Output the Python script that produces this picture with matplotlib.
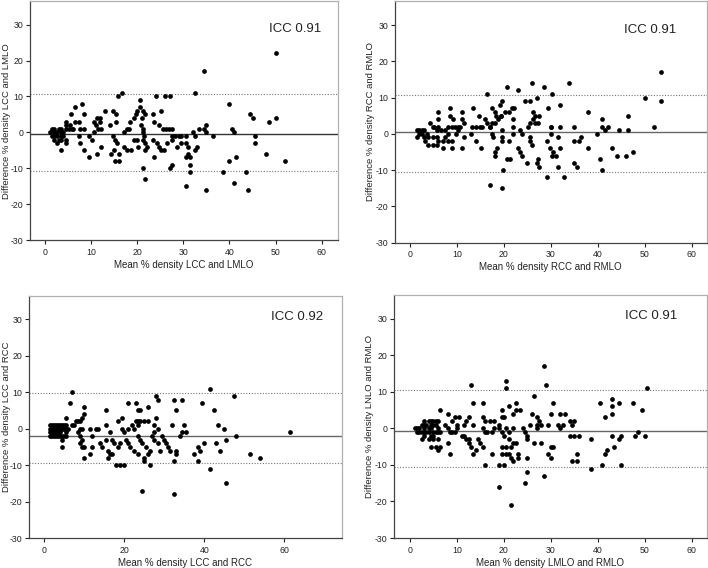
import matplotlib
matplotlib.use("Agg")
import matplotlib.pyplot as plt

plt.rcParams['font.family'] = ['Liberation Sans', 'DejaVu Sans']
plt.rcParams['axes.unicode_minus'] = False

# ---------------- data ----------------
# Panel 1: LCC vs LMLO
p1_x = [1, 1.5, 2, 2, 2.5, 3, 3.5, 3.5, 4, 4.5, 4.5, 4, 3.5, 2.5, 2, 1.5, 2, 3, 3.5, 4.5, 2.5, 4.5, 3.5,
        4.6, 5.1, 5.4, 5.8, 6.1, 6.5, 5.6, 6.5, 7.4, 8, 8.5, 7.6, 7.4, 8.5, 7.6, 8.5, 9.5, 9.6, 10.1, 10.6,
        10.6, 11, 11.2, 11.9, 11.6, 12.1, 11.9, 11.2, 12.1, 13.1, 14.1, 14.3, 14.8, 15.4, 15.5, 14.8, 15.2,
        15.7, 15, 15.2, 16.1, 16.1, 15.9, 16.6, 17.1, 17.7, 18.3, 17.1, 17.7, 18.7, 18.4, 19.2, 19.7, 20,
        20.6, 20.6, 21.2, 21.7, 20.8, 21.2, 19.2, 19.9, 20.2, 21.2, 21.7, 22.1, 21.7, 21.2, 21.7, 21, 21.3,
        21.5, 23.5, 23.7, 24.1, 25.1, 24.8, 25.5, 26.2, 26.9, 27.6, 26, 27, 23.5, 24.2, 24.8, 25.1, 25.7,
        23.6, 26.5, 27.6, 28.6, 27, 27.5, 27.5, 28.1, 29,
        50, 34.5, 32.5, 40, 44.5, 45, 48.5, 50, 40.5, 41, 35, 34.5, 33.5, 32, 35, 36.5, 32.5, 29.6, 30.5,
        29.6, 30.5, 31, 33, 32.5, 30.5, 31.5, 31, 31.5, 31.5, 30.5, 35, 38.5, 40, 41.5, 41, 43.5, 44, 45.5,
        45.5, 48, 52]
p1_y = [0, 1, 0, 1, 0, 1, 0, 1, 0, 1, 2, -1, -1, -1, -1, -1, -2, -2, -2, -2, -3, -3, -5,
        3, 1, 2, 1, 1, 3, 5, 7, 3, 8, 5, 1, -1, 1, -3, -5, -7, -1, -2, 0,
        3, 2, 4, 3, 1, 1, 4, -6, -4, 6, 2, -6, 6, 5, 3, -1, -2,
        -3, -5, -8, -8, -6, 10, 11, 0, 1, 1, -4, -5, -5, 3, 4, 5, 6,
        7, 9, 6, 5, 2, 1, -2, -2, -4, -2, -3, -4, -5, -10, -13, 4, 0,
        -1, 5, 3, 10, 6, 2, 1, 1, 1, 1, 10, 10, -2, -3, -4, -5, -5,
        -7, -3, -2, -4, -10, -9, -1, -1, -1,
        22, 17, 11, 8, 5, 4, 3, 4, 1, 0, 2, 1, 1, 0, 0, -1, -1, -1, -1,
        -3, -3, -4, -4, -5, -7, -7, -6, -9, -11, -15, -16, -11, -8, -7, -14, -11, -16, -1,
        -3, -6, -8]
p1_lines = [-0.5, 10.6, -10.7]  # mean, upper, lower limits

# Panel 2: RCC vs RMLO
p2_x = [1.4, 1.9, 2.5, 3, 1.4, 1.9, 2.5, 3.6, 3, 3.3, 3.9, 4.8, 5.7, 6, 5.7, 4.8, 3.9,
        4.3, 4.8, 5.2, 5.7, 6, 6, 6, 6.7, 7.5, 8.2, 8.9, 9.6, 10.3, 8.5, 8.5, 9.2, 11, 11, 11.4, 10.6,
        9.9, 8.2, 7.5, 7.1, 8.2, 9, 7.1, 9, 11, 11.5, 10.2, 13.3, 14, 14.9, 15.4, 13.5, 14.6, 14.1, 13,
        15.1, 16.5, 16, 16.3, 17, 17.5, 18.1, 18.8, 19.4, 17, 17.4, 17.6, 17.5, 18.2, 19.2, 19.5, 18.3,
        19.4, 20.2, 21.1, 21.8, 22.2, 19.5, 19.5, 19.5, 18.5, 18.1, 18, 20.6, 21.3, 19.9, 17, 19.5, 20.6,
        21.1, 22, 22, 22, 23.1, 23.4, 23.9, 23.1, 23.4, 23.9, 24.5, 25.6, 25.1, 25.6, 26.1, 26.6, 27.3,
        25.6, 25.6, 25.9, 24.9, 25.9, 26.1, 26.6, 27.5, 27, 28.5, 29.1, 27.3, 27, 27.5, 29.1, 29.5, 30,
        30, 29.8, 30.2, 30.3,
        53.4, 53.4, 50, 52, 33.9, 32, 38, 41, 41, 42.1, 41.5, 44.5, 46.4, 46.4, 39.9, 43, 44, 46, 47.4,
        40.5, 41, 38, 35, 35, 36, 36.5, 35, 35.5, 32.9, 31.5, 32, 31.5, 32, 30, 30.5, 31]
p2_y = [1, 1, 1, 1, -1, 0, 0, 0, -1, -2, -3, -3, -3, -2, -1, -1, -1,
        3, 2, 2, 1, 6, 4, 2, 1, 1, 2, 2, 2, 2, 7, 5, 4, 6, 4, 3, 2,
        0, 0, -1, -2, -2, -2, -4, -4, -4, -1, 1, 2, 2, 2, 2, 7, 5, -2, 0,
        -4, 11, 4, 3, 2, 3, 3, 4, 5, 2, 0, -1, 7, 6, 8, 9, 5,
        5, 6, 6, 7, 7, 1, -1, -2, -4, -5, -6, -7, -7, -10, -14, -15, 13,
        -2, 4, 2, 0, 12, 1, 0, -4, -5, -6, 9, 9, 2, 3, 4, 3, 3,
        -1, -2, -3, -8, 14, 6, 5, 5, 10, 13, -2, -7, -8, -9, -12, 7, 2,
        0, -4, -6, 11,
        17, 9, 10, 2, 14, 8, 6, 4, 2, 2, 1, 1, 5, 1, 0, -4, -6, -6, -5,
        -7, -10, -4, 2, -2, -2, -1, -8, -9, -12, -9, -4, -1, 2, 2, -5, -6]
p2_lines = [0.6, 10.6, -10.6]

# Panel 3: LCC vs RCC
p3_x = [1.5, 2, 2.5, 3, 3.5, 4, 4.5, 5, 5.5,
        1.5, 2, 2.5, 3, 3.5, 4, 4.5, 5, 5.5, 6,
        1.5, 2, 2.5, 3, 3.5, 4, 5.5,
        1.5, 2, 2.5, 3, 3.5, 4, 4.5, 5, 5.5,
        4.5, 4.5, 5.5, 6.5, 7, 7, 7.5, 8, 8.5, 9, 9.5, 10, 10, 9, 9.5,
        8.5, 9, 9.5, 9, 9.5, 10, 10, 11.5, 12, 11.5, 12, 13, 13.5, 14, 14.5, 15.5, 15.5, 16.5, 17, 17.5,
        16, 16.5, 16, 17, 18, 19, 20, 19, 18.5, 20.5, 21, 21.5, 19.5, 20, 21, 22, 22.5, 23.5, 24, 23.5,
        24, 24.5, 22.5, 23.5, 25, 25, 26.5, 25.5, 26.5, 26, 27, 27.5, 28.5, 27.5, 28.5, 29, 29.5, 30,
        30.5, 31, 31.5, 33, 33, 32.5, 34, 34.5, 15.5, 21, 23, 23.5, 24, 26, 28, 28.5, 32.5, 34.5, 33,
        19.5, 18.5, 23, 23.5, 25, 26, 28, 27.5, 32, 35, 24.5, 32.5,
        41.5, 47.5, 39.5, 42.5, 43.5, 45, 48, 45.5, 35.5, 61.5, 40, 43, 38.5, 39, 44, 37.5, 38.5, 41.5,
        45.5, 51.5, 54]
p3_y = [1, 1, 1, 1, 1, 1, 1, 1, 1,
        0, 0, 0, 0, 0, 0, 0, 0, 0, 0,
        -1, -1, -1, -1, -1, -1, -1,
        -2, -2, -2, -2, -2, -2, -2, -2, -2,
        -3, -5, 3, 7, 10, 1, 1, 2, 2, 2, 3, 4, 6, 0, 0,
        -1, -2, -3, -4, -5, -5, -8, -7, -5, 0, -2, 0, 0, -4, -5, 1, -3, -1, -3, -4,
        -6, -7, -8, -7, -10, -10, -10, -4, -5, -3, -4, -5, 0, -1, 0, 1, 0, 1, 2, -2,
        -3, -4, -6, -7, -9, -8, -10, -5, -6, -7, -2, -1, 0, -3, -4, -6, -2, -3,
        -4, -5, -6, -6, -7, -9, -2, -1, 5, 7, 7, 5, 5, 6, 9, 8, 8, 8, 5,
        3, 2, 2, 2, 2, 2, 3, 1, 1, 1, -17, -18,
        11, 9, 7, 5, 1, 0, -2, -3, -1, -1, -4, -4, -5, -6, -6, -7, -9, -11,
        -15, -7, -8]
p3_lines = [-1.9, 9.7, -9.5]

# Panel 4: LMLO vs RMLO
p4_x = [1, 1.5, 1.5, 2, 2, 2.5, 2.5, 2.5, 3, 3, 3, 3, 3, 3.5, 3.5, 4, 4, 4, 4, 4.5, 4.5, 4.5, 4.5, 4.5,
        5, 5, 5, 5, 5, 5.5, 5.5, 5.5, 5.5, 6, 6, 6, 6, 6, 6.5, 6.5, 6.5,
        7.5, 8, 8, 8, 8.5, 8.5, 9, 9, 9.5, 9.5, 10, 10.5, 10, 11, 11.5, 11.5, 12, 12, 12.5, 12.5, 12.5, 13,
        13, 13.5, 13.5, 13.5, 14, 14.5, 15, 15.5, 15.5, 15.5, 15.5, 16, 16, 16, 16.5, 17, 17.5, 17.5, 18,
        18, 19, 19, 19, 19, 19.5, 19.5, 19.5, 19.5, 19.5, 20, 20, 20, 20.5, 20.5, 20.5, 20.5, 20.5, 21, 21,
        21, 21, 21.5, 21.5, 21.5, 22, 22, 22, 22, 22.5, 22.5, 22.5, 23, 23, 23.5, 24, 24.5, 24.5, 25, 25,
        25, 25, 25.5, 26, 26.5, 26.5, 27, 27, 27, 27.5, 28, 28, 28.5, 28.5, 29, 29.5, 29.5, 30, 30, 30.5,
        30, 30.5, 31.5, 32, 32, 32.5, 33, 34, 34.5, 35, 34, 35, 36, 34.5, 35.5, 35.5, 38.5, 38.5, 40.5, 41,
        41.5, 41.5, 42, 43, 43, 43, 43, 43.5, 44.5, 44.5, 45, 45, 47.5, 48, 48.5, 49.5, 50, 50.5]
p4_y = [0, 0, -1, 0, -1, 1, -1, -3, 2, 1, 0, -1, -2, 1, -1, 2, 0, -1, -3, 2, 1, 0, -2, -5,
        2, 1, -1, -2, -3, 2, 1, -1, -5, 2, 0, -1, -3, -6, 5, -5, -1,
        1, 4, 0, -4, -7, -1, 2, -1, 3, -1, 0, 3, 1, -2, -2, 1, 2, -3, 3, -3, -4, 12,
        -5, 7, 1, -7, -6, -3, -4, 7, -5, 3, 0, -10, 2, -1, -1, 2, -7, -1, 2,
        0, -16, -10, 1, 0, 5, 3, -5, -7, -1, -10, 3, -2, 13, 11, -5, -7, 0, 6, -1,
        -7, -3, -21, -8, -5, -9, -4, 4, 0, 7, 5, -4, -8, -7, 5, 0, -1, -15, -2, -3,
        -8, -12, 1, 4, 9, -4, 3, 1, 0, 2, 1, -4, 17, -13, 12, 1, -7, 4, -5, 7,
        -8, -5, 1, 4, 0, 1, 4, 2, 1, 2, -2, -2, -2, -9, -9, -7, -3, -11, 7, -10,
        3, -7, -6, 8, 6, 4, -2, -5, 7, -3, -2, -10, 7, -2, -1, 5, -2, 11]
p4_lines = [-0.8, 10.4, -10.6]

icc_texts = ["ICC 0.91", "ICC 0.91", "ICC 0.92", "ICC 0.91"]
x_labels = ["Mean % density LCC and LMLO", "Mean % density RCC and RMLO",
            "Mean % density LCC and RCC", "Mean % density LMLO and RMLO"]
y_labels = ["Difference % density LCC and LMLO", "Difference % density RCC and RMLO",
            "Difference % density LCC and RCC", "Difference % density LNLO and RMLO"]
x_ticks = [[0, 10, 20, 30, 40, 50, 60], [0, 10, 20, 30, 40, 50, 60],
           [0, 20, 40, 60], [0, 10, 20, 30, 40, 50, 60]]
y_ticks = [-30, -20, -10, 0, 10, 20, 30]

# ---------------- layout ----------------
W, H = 708, 568
fig = plt.figure(figsize=(W / 100, H / 100), dpi=100)

def px_axes(l, t, r, b):
    return fig.add_axes([l / W, (H - b) / H, (r - l) / W, (b - t) / H])

axes_px = [(30, 1.4, 338.3, 240), (394.7, 1.1, 706.7, 242.7),
           (29.3, 295.7, 341.7, 538), (394, 294.7, 706.7, 538)]
xlims = [(-3.25, 63.6), (-3.26, 63.2), (-3.75, 74.35), (-3.4, 63.2)]
ylims = [(-30, 36.5), (-30, 36.6), (-30, 36.5), (-30, 36.6)]
icc_pos = [(60.0, 28.9), (56.7, 28.5), (69.8, 30.7), (56.9, 30.8)]
mean_colors = ['#333333', '#666666', '#666666', '#666666']
xlabel_gap = [20.5, 19, 20, 20]     # px from axes bottom to top of x label
ylabel_gap = [18.6, 20, 18.2, 20]   # px from axes left to right side of y label

data = [(p1_x, p1_y, p1_lines), (p2_x, p2_y, p2_lines),
        (p3_x, p3_y, p3_lines), (p4_x, p4_y, p4_lines)]

for i, (xs, ys, lines) in enumerate(data):
    l, t, r, b = axes_px[i]
    ax = px_axes(l, t, r, b)
    ax.set_xlim(*xlims[i])
    ax.set_ylim(*ylims[i])
    mean, up, lo = lines
    ax.axhline(mean, color=mean_colors[i], lw=1.0, zorder=1)
    ax.axhline(up, color='#777777', lw=0.8, ls=(0, (1, 1.5)), zorder=1)
    ax.axhline(lo, color='#777777', lw=0.8, ls=(0, (1, 1.5)), zorder=1)
    ax.plot(xs, ys, 'o', color='black', ms=3.4, mew=0, zorder=3)
    ax.set_xticks(x_ticks[i])
    ax.set_yticks(y_ticks)
    ax.tick_params(direction='out', length=3, width=0.8, labelsize=6.3,
                   colors='#222222', pad=2.5)
    ax.tick_params(axis='y', pad=1.8)
    for s in ['left', 'bottom']:
        ax.spines[s].set_color('#444444')
        ax.spines[s].set_linewidth(0.9)
    for s in ['top', 'right']:
        ax.spines[s].set_color('#b0b0b0')
        ax.spines[s].set_linewidth(0.9)
    ax.set_xlabel(x_labels[i], fontsize=7, color='#222222')
    ax.set_ylabel(y_labels[i], fontsize=6.8, color='#222222')
    ax.xaxis.set_label_coords(0.5, -xlabel_gap[i] / (b - t))
    ax.yaxis.set_label_coords(-ylabel_gap[i] / (r - l), 0.5)
    ax.text(icc_pos[i][0], icc_pos[i][1], icc_texts[i], ha='right', va='center',
            fontsize=9.5, color='#222222')

fig.savefig("out.png", dpi=100)
